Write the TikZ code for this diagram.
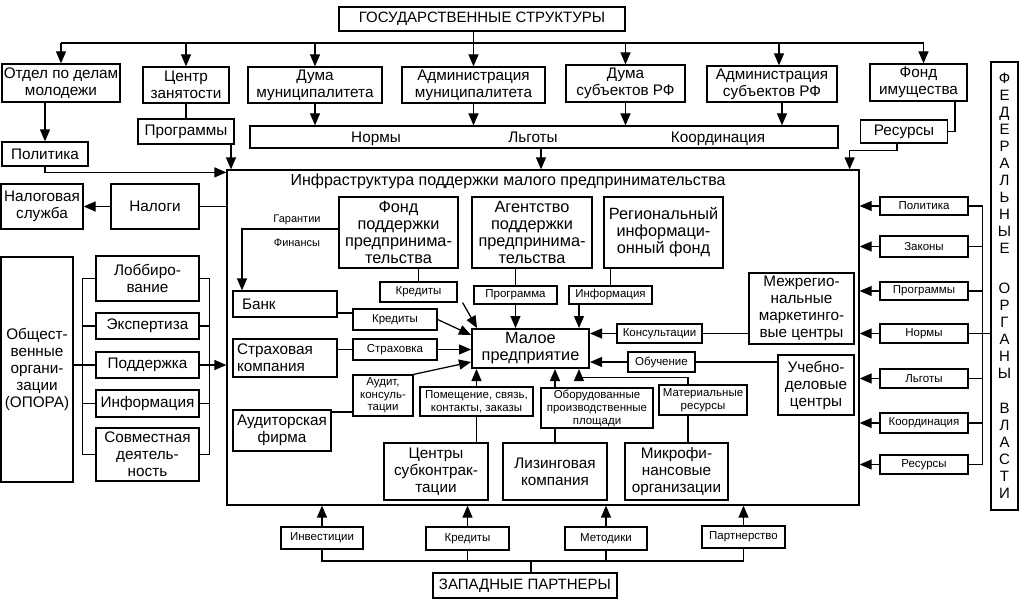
\documentclass[tikz,border=0pt]{standalone}
\usepackage{fontspec}
\setmainfont{Liberation Sans}
\usetikzlibrary{arrows.meta}
\begin{document}
\begin{tikzpicture}[x=1pt,y=-1pt,
 box/.style={draw, line width=1.25pt, inner sep=0pt, align=center, font=\fontsize{15.3}{17}\selectfont},
 bbox/.style={box, font=\fontsize{16.3}{17}\selectfont},
 sbox/.style={box, font=\fontsize{11.5}{13}\selectfont},
 heavy/.style={line width=2pt},
 ln/.style={line width=1.25pt},
 arr/.style={line width=1.25pt, -{Triangle[length=12pt,width=10pt]}},
 lbl/.style={inner sep=0pt, font=\fontsize{15.3}{17}\selectfont},
 slbl/.style={inner sep=0pt, font=\fontsize{11}{12}\selectfont}
]
\useasboundingbox (0,0) rectangle (1029,610);

% ---------- top ----------
\node[box, minimum width=286pt, minimum height=24pt, font=\fontsize{15}{17}\selectfont] (gos) at (482,19) {ГОСУДАРСТВЕННЫЕ СТРУКТУРЫ};
\node[box, minimum width=118pt, minimum height=38pt] (otdel) at (61,83) {Отдел по делам\\молодежи};
\node[box, minimum width=86pt, minimum height=36pt] (centr) at (186,85) {Центр\\занятости};
\node[box, minimum width=134pt, minimum height=36pt] (dumam) at (315,85) {Дума\\муниципалитета};
\node[box, minimum width=143pt, minimum height=36pt] (adminm) at (473.5,85) {Администрация\\муниципалитета};
\node[box, minimum width=119pt, minimum height=37pt] (dumas) at (625.5,83.5) {Дума\\субъектов РФ};
\node[box, minimum width=130pt, minimum height=36pt] (admins) at (772,84) {Администрация\\субъектов РФ};
\node[box, minimum width=97pt, minimum height=37pt] (fondim) at (918.5,82.5) {Фонд\\имущества};

\coordinate (tbus) at (0,43);
\draw[arr] (adminm.north |- gos.south) -- (adminm.north);
\draw[ln] (otdel.north |- tbus) -- ([xshift=5pt]fondim.north |- tbus);
\draw[arr] (otdel.north |- tbus) -- (otdel.north);
\draw[arr] (centr.north |- tbus) -- (centr.north);
\draw[arr] (dumam.north |- tbus) -- (dumam.north);
\draw[arr] (dumas.north |- tbus) -- (dumas.north);
\draw[arr] ([xshift=7pt]admins.north |- tbus) -- ([xshift=7pt]admins.north);
\draw[arr] ([xshift=5pt]fondim.north |- tbus) -- ([xshift=5pt]fondim.north);

\node[box, minimum width=86pt, minimum height=24pt] (politika) at (45,154) {Политика};
\node[box, minimum width=96pt, minimum height=25pt] (progr) at (186,131.5) {Программы};
\node[box, minimum width=588pt, minimum height=22pt] (norms) at (544,137) {};
\node[lbl, anchor=base] (nnorm) at (376,142.5) {Нормы};
\node[lbl, anchor=base] (nlg) at (533,142.5) {Льготы};
\node[lbl, anchor=base] (nkoord) at (718,142.5) {Координация};
\node[box, minimum width=87pt, minimum height=23pt] (resursy) at (904,131.5) {Ресурсы};

\draw[arr] (otdel.south -| politika.north) -- (politika.north);
\draw[ln] (centr.south) -- (progr.north);
\draw[arr] (dumam.south) -- (dumam.south |- norms.north);
\draw[arr] (adminm.south) -- (adminm.south |- norms.north);
\draw[arr] (dumas.south) -- (dumas.south |- norms.north);
\draw[arr] ([xshift=10pt]admins.south) -- ([xshift=10pt]admins.south |- norms.north);
\draw[ln] ([xshift=36.5pt]fondim.south) |- (resursy.east);

% ---------- infrastructure frame ----------
\node[draw, ln, minimum width=632pt, minimum height=335pt, inner sep=0pt] (infra) at (543,337.5) {};
\node[lbl, font=\fontsize{16}{17}\selectfont] (ititle) at (508,181) {Инфраструктура поддержки малого предпринимательства};

\draw[arr] (politika.south) |- ([yshift=-3pt]infra.north west);
\draw[arr] ([xshift=45pt]progr.south) -- ([xshift=45pt]progr.south |- infra.north);
\draw[arr] ([xshift=-3pt]norms.south) -- ([xshift=-3pt]norms.south |- infra.north);
\draw[arr] ([xshift=-7pt]resursy.south) -- ++(0,7) -| ([xshift=-10pt]infra.north east);

% ---------- left ----------
\node[box, minimum width=82pt, minimum height=45pt] (nalsl) at (42,206.5) {Налоговая\\служба};
\node[box, minimum width=88pt, minimum height=45pt] (nalogi) at (155,206.5) {Налоги};
\draw[ln] (infra.west |- nalogi.east) -- (nalogi.east);
\draw[arr] (nalogi.west) -- (nalsl.east);

\node[box, minimum width=72pt, minimum height=225pt] (opora) at (37,369.5) {Общест-\\венные\\органи-\\зации\\(ОПОРА)};
\node[box, minimum width=103pt, minimum height=45pt] (lobby) at (147.5,278.5) {Лоббиро-\\вание};
\node[box, minimum width=103pt, minimum height=26pt] (ekspert) at (147.5,326) {Экспертиза};
\node[box, minimum width=103pt, minimum height=26pt] (podd) at (147.5,365) {Поддержка};
\node[box, minimum width=103pt, minimum height=27pt] (inform) at (147.5,403.5) {Информация};
\node[box, heavy, minimum width=103pt, minimum height=53pt] (sovm) at (147.5,454.5) {Совместная\\деятель-\\ность};

\draw[ln] (lobby.west) -- ++(-13,0) |- (sovm.west);
\draw[ln] (ekspert.west) -- ++(-13,0);
\draw[ln] (inform.west) -- ++(-13,0);
\draw[ln] (opora.east |- podd.west) -- (podd.west);
\draw[ln] (lobby.east) -- ++(10,0) |- (sovm.east);
\draw[ln] (ekspert.east) -- ++(10,0);
\draw[ln] (inform.east) -- ++(10,0);
\draw[arr] (podd.east) -- (podd.east -| infra.west);

% ---------- inside ----------
\node[bbox, minimum width=119pt, minimum height=71pt, heavy] (fondpp) at (398.5,232.5) {Фонд\\поддержки\\предпринима-\\тельства};
\node[bbox, minimum width=120pt, minimum height=71pt] (agent) at (532,232.5) {Агентство\\поддержки\\предпринима-\\тельства};
\node[bbox, minimum width=119pt, minimum height=71pt, heavy] (regif) at (663.5,232.5) {Региональный\\информаци-\\онный фонд};

\node[slbl] (gar) at (297,220) {Гарантии};
\node[slbl] (fin) at (297,243) {Финансы};

\node[box, minimum height=26pt, text width=86pt, inner xsep=9pt, align=left] (bank) at (285,304) {Банк};
\node[box, minimum height=38pt, text width=96pt, inner xsep=4pt, align=left] (strah) at (285,358) {Страховая\\компания};
\node[box, minimum width=98pt, minimum height=41pt] (auditf) at (282,430.5) {Аудиторская\\фирма};

\node[sbox, minimum width=84pt, minimum height=21pt] (kred1) at (395,319.5) {Кредиты};
\node[sbox, minimum width=84pt, minimum height=21pt] (strahovka) at (395,349.5) {Страховка};
\node[sbox, minimum width=60pt, minimum height=41pt, font=\fontsize{11.5}{12.5}\selectfont] (auditk) at (383,395.5) {Аудит,\\консуль-\\тации};
\node[bbox, heavy, minimum width=117pt, minimum height=39pt] (maloe) at (530.5,348.5) {Малое\\предприятие};

\node[sbox, minimum width=77pt, minimum height=20pt] (kred2) at (418.5,292) {Кредиты};
\node[sbox, minimum width=83pt, minimum height=18pt] (programma) at (515.5,295) {Программа};
\node[sbox, minimum width=83pt, minimum height=18pt] (informa) at (610.5,295) {Информация};
\node[sbox, minimum width=85pt, minimum height=19pt] (konsult) at (659.5,333.5) {Консультации};
\node[sbox, minimum width=67pt, minimum height=20pt] (obuch) at (661.5,362) {Обучение};

\node[box, minimum width=105pt, minimum height=71pt] (mezhreg) at (801.5,308.5) {Межрегио-\\нальные\\маркетинго-\\вые центры};
\node[box, minimum width=76pt, minimum height=60pt] (ucheb) at (816,385) {Учебно-\\деловые\\центры};

\node[sbox, minimum width=113pt, minimum height=29pt] (pomesch) at (476.5,401.5) {Помещение, связь,\\контакты, заказы};
\node[sbox, minimum width=112pt, minimum height=40pt] (obor) at (597,408) {Оборудованные\\производственные\\площади};
\node[sbox, minimum width=88pt, minimum height=30pt] (mater) at (703,400) {Материальные\\ресурсы};

\node[box, minimum width=104pt, minimum height=57pt] (centsub) at (436,471.5) {Центры\\субконтрак-\\тации};
\node[box, minimum width=104pt, minimum height=57pt] (lizing) at (555,471.5) {Лизинговая\\компания};
\node[box, minimum width=103pt, minimum height=57pt] (mikro) at (676.5,471.5) {Микрофи-\\нансовые\\организации};

\draw[arr] ([yshift=3.5pt]fondpp.west) -| ([xshift=-43pt]bank.north);
\draw[ln] (fondpp.south -| kred2.north) -- (kred2.north);
\draw[arr] ([xshift=5pt]kred2.south east) -- ([xshift=6pt]maloe.north west);
\draw[ln] (programma.north |- agent.south) -- (programma.north);
\draw[arr] (programma.south) -- (programma.south |- maloe.north);
\draw[ln] (informa.north |- regif.south) -- (informa.north);
\draw[arr] ([xshift=-11pt]maloe.north east |- informa.south) -- ([xshift=-11pt]maloe.north east);

\draw[ln] ([yshift=-9pt]bank.east) -- ([yshift=-9pt]bank.east -| kred1.west);
\draw[arr] (kred1.east) -- ([yshift=13.5pt]maloe.west);
\draw[ln] (strahovka.west -| strah.east) -- (strahovka.west);
\draw[arr] (strahovka.east) -- (strahovka.east -| maloe.west);
\draw[ln] ([yshift=18.5pt]auditf.east) -- ([yshift=18.5pt]auditf.east -| auditk.west);
\draw[arr] (auditk.north east) -- ([yshift=-13.5pt]maloe.west);

\draw[ln] (konsult.east -| mezhreg.west) -- (konsult.east);
\draw[arr] (konsult.west) -- (konsult.west -| maloe.east);
\draw[ln] (obuch.east -| ucheb.west) -- (obuch.east);
\draw[arr] (obuch.west) -- (obuch.west -| maloe.east);

\draw[ln] (centsub.north -| pomesch.south) -- (pomesch.south);
\draw[arr] (pomesch.north) -- (pomesch.north |- maloe.south);
\draw[ln] (lizing.north) -- (lizing.north |- obor.south);
\draw[arr] (lizing.north |- obor.north) -- (lizing.north |- maloe.south);
\draw[ln] ([xshift=-15pt]mater.south |- mikro.north) -- ([xshift=-15pt]mater.south);
\draw[arr] ([xshift=-15pt]mater.north) -- ++(0,-7) -| ([xshift=-11pt]maloe.south east);

% ---------- right ----------
\node[box, minimum width=27pt, minimum height=448pt, font=\fontsize{15}{17}\selectfont] (feder) at (1004.5,286) {Ф\\Е\\Д\\Е\\Р\\А\\Л\\Ь\\Н\\Ы\\Е\\[23pt]О\\Р\\Г\\А\\Н\\Ы\\[18pt]В\\Л\\А\\С\\Т\\И};

\node[sbox, minimum width=88pt, minimum height=18pt] (rpol) at (924,206) {Политика};
\node[sbox, minimum width=88pt, minimum height=21pt] (rzak) at (924,246.5) {Законы};
\node[sbox, minimum width=88pt, minimum height=18pt] (rprog) at (924,291) {Программы};
\node[sbox, minimum width=88pt, minimum height=19pt] (rnorm) at (924,333.5) {Нормы};
\node[sbox, minimum width=88pt, minimum height=19pt] (rlg) at (924,378.5) {Льготы};
\node[sbox, heavy, minimum width=88pt, minimum height=20pt] (rkoord) at (924,423) {Координация};
\node[sbox, minimum width=88pt, minimum height=19pt] (rres) at (924,464.5) {Ресурсы};

\draw[ln] (rpol.east) -- ++(14,0) |- (rres.east);
\draw[ln] (rzak.east) -- ++(14,0);
\draw[ln] (rprog.east) -- ++(14,0);
\draw[ln] (rlg.east) -- ++(14,0);
\draw[ln] (rkoord.east) -- ++(14,0);
\draw[ln] (feder.west |- rnorm.east) -- (rnorm.east);
\draw[arr] (rpol.west) -- (rpol.west -| infra.east);
\draw[arr] (rzak.west) -- (rzak.west -| infra.east);
\draw[arr] (rprog.west) -- (rprog.west -| infra.east);
\draw[arr] (rnorm.west) -- (rnorm.west -| infra.east);
\draw[arr] (rlg.west) -- (rlg.west -| infra.east);
\draw[arr] (rkoord.west) -- (rkoord.west -| infra.east);
\draw[arr] (rres.west) -- (rres.west -| infra.east);

% ---------- bottom ----------
\node[sbox, heavy, minimum width=82pt, minimum height=22pt] (inv) at (322,538) {Инвестиции};
\node[sbox, heavy, minimum width=83pt, minimum height=23pt] (kred3) at (467.5,538.5) {Кредиты};
\node[sbox, minimum width=82pt, minimum height=23pt] (metod) at (606,538.5) {Методики};
\node[sbox, minimum width=83pt, minimum height=22pt] (partn) at (743.5,537) {Партнерство};
\node[box, minimum width=184pt, minimum height=25pt, font=\fontsize{15}{17}\selectfont] (zap) at (525,585.5) {ЗАПАДНЫЕ ПАРТНЕРЫ};

\draw[arr] (inv.north) -- (inv.north |- infra.south);
\draw[arr] (kred3.north) -- (kred3.north |- infra.south);
\draw[arr] (metod.north) -- (metod.north |- infra.south);
\draw[arr] (partn.north) -- (partn.north |- infra.south);
\coordinate (wbus) at (0,561);
\draw[ln] (inv.south) -- (inv.south |- wbus) -- (partn.south |- wbus) -- (partn.south);
\draw[ln] (kred3.south) -- (kred3.south |- wbus);
\draw[ln] (metod.south) -- (metod.south |- wbus);
\draw[ln] ([xshift=6pt]zap.north) -- ([xshift=6pt]zap.north |- wbus);
\end{tikzpicture}
\end{document}
